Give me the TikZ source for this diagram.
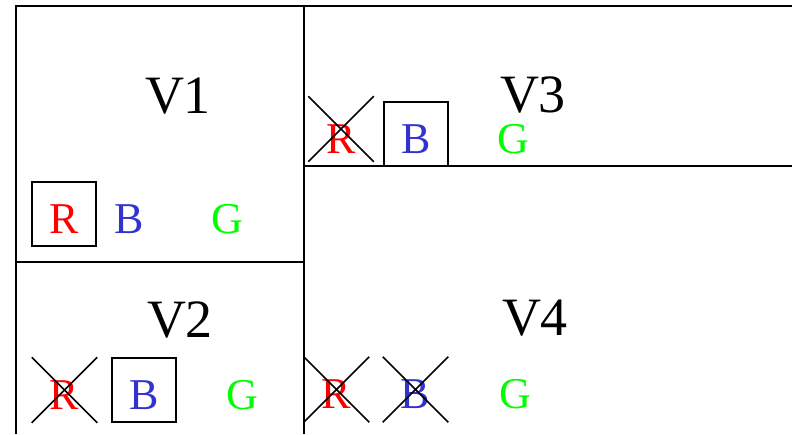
\documentclass[tikz,border=0pt]{standalone}
\usepackage{fontspec}
\setmainfont{Liberation Serif}
\usetikzlibrary{shapes.misc}

\definecolor{rcol}{RGB}{255,0,0}
\definecolor{bcol}{RGB}{51,51,204}
\definecolor{gcol}{RGB}{0,255,0}

\begin{document}
\begin{tikzpicture}[x=1pt, y=-1pt, line width=1.6pt,
    vname/.style={font=\fontsize{54}{60}\selectfont, anchor=base},
    lbl/.style={font=\fontsize{44}{48}\selectfont, minimum size=64pt,
        inner sep=0pt, text height=38pt, text depth=0pt},
    kept/.style={lbl, draw, line width=1.5pt},
    dropped/.style={lbl, draw, cross out, line width=1.5pt}]
    \useasboundingbox (0,0) rectangle (792,434);

    % Các góc của lưới
    \coordinate (TL) at (16,6);
    \coordinate (TR) at (792,6);
    \coordinate (BL) at (16,434);
    \coordinate (TM) at (304,6);
    \coordinate (BM) at (304,434);
    \coordinate (L2) at (16,262);
    \coordinate (M2) at (304,262);
    \coordinate (M3) at (304,166);
    \coordinate (R3) at (792,166);

    \draw (BL) -- (TL) -- (TR);
    \draw (TM) -- (BM);
    \draw (L2) -- (M2);
    \draw (M3) -- (R3);

    % Tên các miền
    \node[vname] (V1) at (178,113) {V1};
    \node[vname] (V2) at (180,337) {V2};
    \node[vname] (V3) at (533,112) {V3};
    \node[vname] (V4) at (535,335) {V4};

    % Miền V1
    \node[kept, text=rcol] (V1R) at (64,214) {R};
    \node[lbl, text=bcol] (V1B) at (129,214) {B};
    \node[lbl, text=gcol] (V1G) at (227,214) {G};

    % Miền V2
    \node[dropped, text=rcol] (V2R) at (64.5,390) {R};
    \node[kept, text=bcol] (V2B) at (144,390) {B};
    \node[lbl, text=gcol] (V2G) at (242,390) {G};

    % Miền V3
    \node[dropped, text=rcol, text height=48pt] (V3R) at (341,129) {R};
    \node[kept, text=bcol] (V3B) at (416,134) {B};
    \node[lbl, text=gcol] (V3G) at (513,134) {G};

    % Miền V4
    \node[dropped, text=rcol] (V4R) at (336.5,389.5) {R};
    \node[dropped, text=bcol] (V4B) at (415.5,389.5) {B};
    \node[lbl, text=gcol] (V4G) at (515,389.5) {G};
\end{tikzpicture}
\end{document}
